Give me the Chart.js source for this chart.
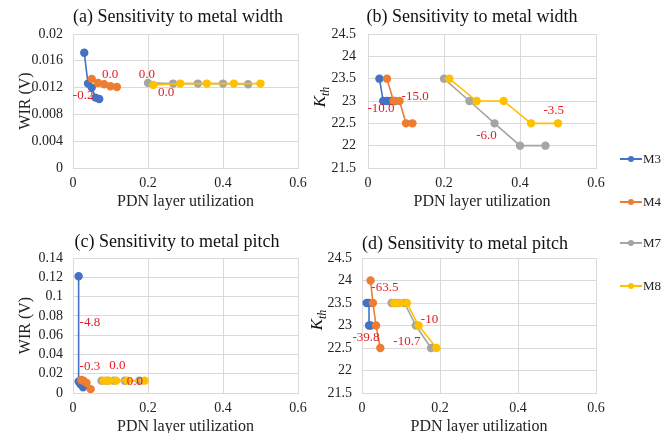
<!DOCTYPE html>
<html>
<head>
<meta charset="utf-8">
<script src="https://cdn.jsdelivr.net/npm/chart.js@4/dist/chart.umd.min.js"></script>
<style>
  html, body { margin: 0; padding: 0; background: #fff; overflow: hidden; }
  #wrap { position: relative; width: 667px; height: 433px; }
  canvas { position: absolute; }
  .leg { position: absolute; left: 620px; height: 14px; font: 13px "Liberation Serif", serif; color: #222; }
  .leg .ln { position: absolute; left: 0; top: 6px; width: 22px; height: 2px; }
  .leg .dt { position: absolute; left: 8px; top: 4px; width: 6px; height: 6px; border-radius: 50%; }
  .leg .tx { position: absolute; left: 23px; top: -1px; }
</style>
</head>
<body>
<div id="wrap">
  <canvas id="ca" width="320" height="215" style="left:0;top:0"></canvas>
  <canvas id="cb" width="320" height="215" style="left:300px;top:0"></canvas>
  <canvas id="cc" width="320" height="225" style="left:0;top:215px"></canvas>
  <canvas id="cd" width="320" height="225" style="left:300px;top:215px"></canvas>
  <div id="legend"></div>
</div>
<script>
const SERIF = '"Liberation Serif", "Times New Roman", serif';
const seriesNames = ['M3', 'M4', 'M7', 'M8'];
const seriesColors = ['#4472C4', '#ED7D31', '#A5A5A5', '#FFC000'];

// metal width sweep: (a) and (b)
const widthUtilM3 = [0.03, 0.04, 0.05, 0.06, 0.07];
const widthUtilM4 = [0.05, 0.067, 0.083, 0.1, 0.117];
const widthUtilM7 = [0.2, 0.267, 0.333, 0.4, 0.467];
const widthUtilM8 = [0.214, 0.286, 0.357, 0.429, 0.5];
const widthWirM3 = [0.0172, 0.0126, 0.0120, 0.0105, 0.0103];
const widthWirM4 = [0.0133, 0.0127, 0.0125, 0.0122, 0.0121];
const widthWirM7 = [0.0127, 0.0126, 0.0126, 0.0126, 0.0125];
const widthWirM8 = [0.0124, 0.0126, 0.0126, 0.0126, 0.0126];
const widthKthM3 = [23.5, 23, 23, 23, 23];
const widthKthM4 = [23.5, 23, 23, 22.5, 22.5];
const widthKthM7 = [23.5, 23, 22.5, 22, 22];
const widthKthM8 = [23.5, 23, 23, 22.5, 22.5];

// metal pitch sweep: (c) and (d)
const pitchUtilWirM3 = [0.015, 0.015, 0.02, 0.027];
const pitchUtilWirM4 = [0.022, 0.028, 0.036, 0.047];
const pitchWirM3 = [0.121, 0.012, 0.009, 0.006];
const pitchWirM4 = [0.0135, 0.0128, 0.0105, 0.004];
const pitchUtilM7 = [0.076, 0.09, 0.109, 0.138, 0.177];
const pitchUtilM8 = [0.082, 0.096, 0.115, 0.145, 0.191];
const pitchWirM7 = [0.0128, 0.0128, 0.0128, 0.0127, 0.0127];
const pitchWirM8 = [0.0128, 0.0128, 0.0128, 0.0128, 0.0128];
const pitchUtilKthM3 = [0.012, 0.018, 0.018, 0.022];
const pitchUtilKthM4 = [0.022, 0.028, 0.036, 0.047];
const pitchKthM3 = [23.5, 23.5, 23, 23];
const pitchKthM4 = [24, 23.5, 23, 22.5];
const pitchKthM7 = [23.5, 23.5, 23.5, 23, 22.5];
const pitchKthM8 = [23.5, 23.5, 23.5, 23, 22.5];

// red sensitivity notes, anchored in data units
const notesA = [['0.0', 0.099, 0.0140], ['-0.2', 0.027, 0.01075], ['0.0', 0.197, 0.0140], ['0.0', 0.248, 0.0112]];
const notesB = [['-10.0', 0.034, 22.82], ['-15.0', 0.124, 23.11], ['-6.0', 0.312, 22.22], ['-3.5', 0.489, 22.78]];
const notesC = [['-4.8', 0.045, 0.0733], ['-0.3', 0.045, 0.0273], ['0.0', 0.118, 0.0283], ['0.0', 0.165, 0.0117]];
const notesD = [['-63.5', 0.0586, 23.84], ['-10', 0.173, 23.14], ['-39.8', 0.0102, 22.73], ['-10.7', 0.115, 22.64]];

const panelText = {
  id: 'panelText',
  afterDraw(chart, args, opts) {
    const ctx = chart.ctx;
    const xs = chart.scales.x, ys = chart.scales.y;
    ctx.save();
    ctx.textAlign = 'center';
    ctx.textBaseline = 'middle';
    ctx.fillStyle = '#111';
    ctx.font = '18px ' + SERIF;
    ctx.fillText(opts.title, opts.titleX, opts.titleY);
    ctx.fillStyle = '#e31b23';
    ctx.font = '13px ' + SERIF;
    opts.notes.forEach(n => ctx.fillText(n[0], xs.getPixelForValue(n[1]), ys.getPixelForValue(n[2])));
    if (opts.kth) {
      ctx.fillStyle = '#111';
      ctx.translate(opts.kth[0], opts.kth[1]);
      ctx.rotate(-Math.PI / 2);
      ctx.textAlign = 'left';
      ctx.textBaseline = 'alphabetic';
      ctx.font = 'italic 17px ' + SERIF;
      const kw = ctx.measureText('K').width;
      ctx.font = 'italic 12px ' + SERIF;
      const tw = ctx.measureText('th').width;
      const x0 = -(kw + tw) / 2;
      ctx.font = 'italic 17px ' + SERIF;
      ctx.fillText('K', x0, 6);
      ctx.font = 'italic 12px ' + SERIF;
      ctx.fillText('th', x0 + kw, 10);
    }
    ctx.restore();
  }
};

function series(i, xs, ys) {
  return {
    label: seriesNames[i],
    data: xs.map((x, k) => ({ x: x, y: ys[k] })),
    borderColor: seriesColors[i],
    backgroundColor: seriesColors[i],
    showLine: true,
    borderWidth: 1.6,
    pointRadius: 3.4,
    pointHoverRadius: 3.4,
    order: 3 - i
  };
}

const plainNum = v => String(parseFloat(Number(v).toFixed(4)));

function makeChart(id, datasets, o) {
  new Chart(document.getElementById(id), {
    type: 'scatter',
    data: { datasets: datasets },
    plugins: [panelText],
    options: {
      responsive: false,
      animation: false,
      devicePixelRatio: 1,
      layout: { padding: { left: 0, right: o.padRight, top: o.padTop, bottom: 0 } },
      plugins: {
        legend: { display: false },
        tooltip: { enabled: false },
        panelText: { title: o.title, titleX: o.titleX, titleY: o.titleY, notes: o.notes, kth: o.kth }
      },
      scales: {
        x: {
          type: 'linear', min: 0, max: 0.6,
          ticks: { stepSize: 0.2, padding: 7, maxRotation: 0, autoSkip: false, callback: plainNum,
                   color: '#222', font: { family: SERIF, size: 14 } },
          grid: { color: '#d9d9d9', drawTicks: false },
          border: { color: '#d9d9d9' },
          title: { display: true, text: 'PDN layer utilization', color: '#222', font: { family: SERIF, size: 16 }, padding: { top: 0, bottom: 4 } },
          afterFit: s => { s.height = o.xHeight; }
        },
        y: {
          type: 'linear', min: o.yMin, max: o.yMax,
          ticks: { stepSize: o.yStep, padding: o.yPad, autoSkip: false, callback: plainNum,
                   color: '#222', font: { family: SERIF, size: 14 } },
          grid: { color: '#d9d9d9', drawTicks: false },
          border: { color: '#d9d9d9' },
          title: { display: !o.kth, text: 'WIR (V)', color: '#222', font: { family: SERIF, size: 16 }, padding: { top: 16, bottom: 0 } },
          afterFit: s => { s.width = o.yWidth; }
        }
      }
    }
  });
}

makeChart('ca', [
  series(0, widthUtilM3, widthWirM3), series(1, widthUtilM4, widthWirM4),
  series(2, widthUtilM7, widthWirM7), series(3, widthUtilM8, widthWirM8)
], { title: '(a) Sensitivity to metal width', titleX: 178, titleY: 17, notes: notesA,
     yMin: 0, yMax: 0.02, yStep: 0.004, yWidth: 73, yPad: 10, padRight: 22, padTop: 34, xHeight: 47 });

makeChart('cb', [
  series(0, widthUtilM3, widthKthM3), series(1, widthUtilM4, widthKthM4),
  series(2, widthUtilM7, widthKthM7), series(3, widthUtilM8, widthKthM8)
], { title: '(b) Sensitivity to metal width', titleX: 172, titleY: 17, notes: notesB, kth: [19, 97],
     yMin: 21.5, yMax: 24.5, yStep: 0.5, yWidth: 68, yPad: 12, padRight: 24, padTop: 34, xHeight: 47 });

makeChart('cc', [
  series(0, pitchUtilWirM3, pitchWirM3), series(1, pitchUtilWirM4, pitchWirM4),
  series(2, pitchUtilM7, pitchWirM7), series(3, pitchUtilM8, pitchWirM8)
], { title: '(c) Sensitivity to metal pitch', titleX: 177, titleY: 27, notes: notesC,
     yMin: 0, yMax: 0.14, yStep: 0.02, yWidth: 73, yPad: 10, padRight: 22, padTop: 43, xHeight: 47 });

makeChart('cd', [
  series(0, pitchUtilKthM3, pitchKthM3), series(1, pitchUtilKthM4, pitchKthM4),
  series(2, pitchUtilM7, pitchKthM7), series(3, pitchUtilM8, pitchKthM8)
], { title: '(d) Sensitivity to metal pitch', titleX: 165, titleY: 29, notes: notesD, kth: [16, 105],
     yMin: 21.5, yMax: 24.5, yStep: 0.5, yWidth: 62, yPad: 10, padRight: 24, padTop: 43, xHeight: 47 });

// shared legend on the right
const legendTops = [152, 195, 236, 279];
const legend = document.getElementById('legend');
seriesNames.forEach((name, i) => {
  const d = document.createElement('div');
  d.className = 'leg';
  d.style.top = legendTops[i] + 'px';
  d.innerHTML = '<div class="ln" style="background:' + seriesColors[i] + '"></div>' +
    '<div class="dt" style="background:' + seriesColors[i] + '"></div>' +
    '<div class="tx">' + name + '</div>';
  legend.appendChild(d);
});
</script>
</body>
</html>
